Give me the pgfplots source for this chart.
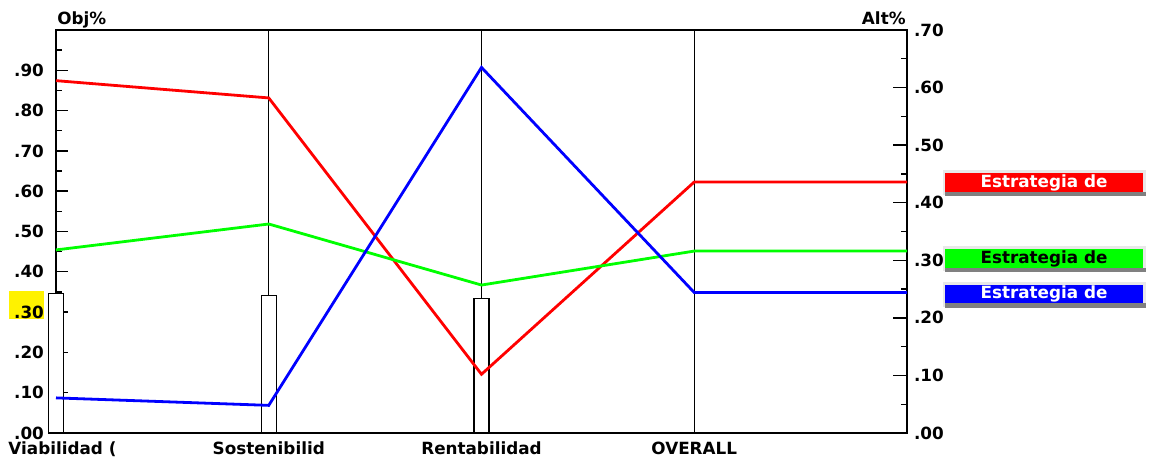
\documentclass[border=0pt]{standalone}
\usepackage{pgfplots}
\pgfplotsset{compat=1.18}
\usepackage{fontspec}
\setmainfont{DejaVu Sans}
\newcommand{\ecfont}{\bfseries\fontsize{8.4pt}{10pt}\selectfont}
\definecolor{ecred}{RGB}{255,0,0}
\definecolor{ecgreen}{RGB}{0,255,0}
\definecolor{ecblue}{RGB}{0,0,255}
\definecolor{ecshadow}{RGB}{128,128,128}
\definecolor{eclight}{RGB}{232,232,232}
\begin{document}
\begin{tikzpicture}
% yellow highlight behind the .30 label
\fill[yellow] (-23.5pt,57.2pt) rectangle (-6pt,70.8pt);
\begin{axis}[
  scale only axis, width=425.5pt, height=201.5pt,
  xmin=0, xmax=4, ymin=0, ymax=1,
  xtick={0,1,2,3},
  xticklabels={{\hspace*{6.5pt}Viabilidad (},Sostenibilid,Rentabilidad,OVERALL},
  xtick style={draw=none},
  ytick={0,0.1,0.2,0.3,0.4,0.5,0.6,0.7,0.8,0.9},
  yticklabels={.00,.10,.20,.30,.40,.50,.60,.70,.80,.90},
  minor ytick={0.05,0.15,0.25,0.35,0.45,0.55,0.65,0.75,0.85,0.95},
  ytick pos=left, tick align=inside,
  major tick length=6pt, minor tick length=3pt,
  tick style={black, line width=0.7pt},
  axis line style={line width=0.8pt},
  every tick label/.append style={font=\ecfont},
  yticklabel style={xshift=-2.5pt},
  xticklabel style={yshift=-1pt},
  clip=false,
]
% vertical criterion lines
\addplot[black, line width=0.7pt, forget plot] coordinates {(1,0) (1,1)};
\addplot[black, line width=0.7pt, forget plot] coordinates {(2,0) (2,1)};
\addplot[black, line width=0.7pt, forget plot] coordinates {(3,0) (3,1)};
% criterion weights (Obj%)
\addplot[ybar, bar width=7.5pt, fill=white, draw=black, line width=0.6pt]
  coordinates {(0,0.346) (1,0.342) (2,0.334)};
\end{axis}
\begin{axis}[
  scale only axis, width=425.5pt, height=201.5pt,
  xmin=0, xmax=4, ymin=0, ymax=0.7,
  axis x line=none, axis y line*=right,
  ytick={0,0.1,0.2,0.3,0.4,0.5,0.6,0.7},
  yticklabels={.00,.10,.20,.30,.40,.50,.60,.70},
  minor ytick={0.05,0.15,0.25,0.35,0.45,0.55,0.65},
  tick align=inside,
  major tick length=7pt, minor tick length=3pt,
  tick style={black, line width=0.7pt},
  axis line style={line width=0.8pt, -},
  every tick label/.append style={font=\ecfont},
  clip=false,
]
\addplot[ecred, line width=1.4pt] coordinates {(0,0.612) (1,0.582) (2,0.102) (3,0.436) (4,0.436)};
\addplot[ecgreen, line width=1.4pt] coordinates {(0,0.318) (1,0.363) (2,0.257) (3,0.316) (4,0.316)};
\addplot[ecblue, line width=1.4pt] coordinates {(0,0.061) (1,0.048) (2,0.635) (3,0.244) (4,0.244)};
\end{axis}
% axis titles
\node[anchor=base west, inner sep=0, font=\ecfont] at (0.5pt,204pt) {Obj\%};
\node[anchor=base east, inner sep=0, font=\ecfont] at (425pt,204pt) {Alt\%};
% legend boxes
\foreach \top/\col/\txt in {129.85/ecred/white, 91.85/ecgreen/black, 74/ecblue/white}{
  \fill[eclight] (443.5pt,\top pt-10.9pt) rectangle (545pt,\top pt+1.5pt);
  \fill[ecshadow] (444.5pt,\top pt-11.4pt) rectangle (545pt,\top pt-9.25pt);
  \fill[\col] (444.5pt,\top pt-9.25pt) rectangle (543.5pt,\top pt);
  \node[text=\txt, font=\ecfont, inner sep=0] at (494pt,\top pt-4.6pt) {Estrategia de};
}
\pgfresetboundingbox
\path[use as bounding box] (-28pt,-16.5pt) rectangle (546.5pt,216.5pt);
\end{tikzpicture}
\end{document}
